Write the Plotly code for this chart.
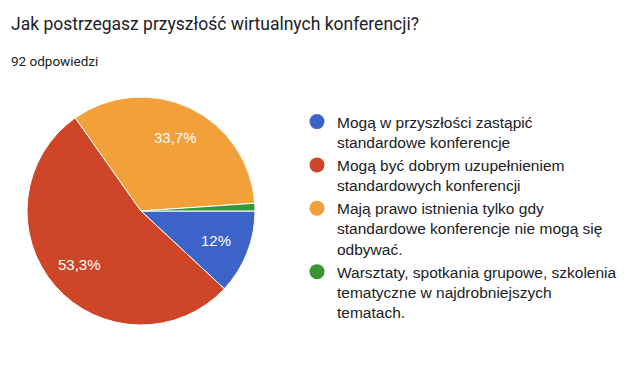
import math
import plotly.graph_objects as go

# Data
categories = [
    "Mogą w przyszłości zastąpić<br>standardowe konferencje",
    "Mogą być dobrym uzupełnieniem<br>standardowych konferencji",
    "Mają prawo istnienia tylko gdy<br>standardowe konferencje nie mogą się<br>odbywać.",
    "Warsztaty, spotkania grupowe, szkolenia<br>tematyczne w najdrobniejszych<br>tematach.",
]
counts = [11, 49, 31, 1]
colors = ["#3c64c8", "#cf4527", "#f2a03a", "#3a9632"]
title_text = "Jak postrzegasz przyszłość wirtualnych konferencji?"
subtitle_text = "92 odpowiedzi"

W, H = 630, 371
OFF = 8  # page body margin
total = sum(counts)


def px(x):
    return (x - OFF) / W


def py(y):
    return 1 - (y - OFF) / H


def fmt(v):
    p = 100.0 * v / total
    s = f"{p:.1f}".replace(".", ",")
    if s.endswith(",0"):
        s = s[:-2]
    return s + "%"


fig = go.Figure()

cx, cy, r = 141, 211, 114
start_deg = 90
fig.add_trace(go.Pie(
    labels=categories,
    values=counts,
    textinfo="none",
    marker=dict(colors=colors, line=dict(color="white", width=1)),
    sort=False,
    direction="clockwise",
    rotation=start_deg,
    showlegend=False,
    hoverinfo="label+percent",
    domain=dict(x=[px(cx - r), px(cx + r)], y=[py(cy + r), py(cy - r)]),
))

# slice percentage labels at mid-angle of each slice (computed from values)
annotations = []
cum = 0.0
for v in counts:
    frac = v / total
    mid = start_deg + 360.0 * (cum + frac / 2)
    cum += frac
    if frac < 0.05:
        continue
    a = math.radians(mid)
    lx = cx + 0.71 * r * math.sin(a)
    ly = cy - 0.71 * r * math.cos(a)
    annotations.append(dict(
        text=fmt(v), x=px(lx), y=py(ly), xref="paper", yref="paper",
        xanchor="center", yanchor="middle", showarrow=False,
        font=dict(family="Liberation Sans, Arial, sans-serif", size=15, color="white"),
    ))

for i, (lab, col) in enumerate(zip(categories, colors)):
    fig.add_trace(go.Scatter(
        x=[None], y=[None], mode="markers", name=lab,
        marker=dict(color=col, size=15, symbol="circle"),
        legendgroup=f"g{i}", showlegend=True, hoverinfo="skip",
    ))

annotations += [
    dict(text=title_text, x=px(OFF + 1), y=py(24), xref="paper", yref="paper",
         xanchor="left", yanchor="middle", showarrow=False,
         font=dict(family="Roboto, sans-serif", size=17.5, color="#202124")),
    dict(text=subtitle_text, x=px(OFF + 1), y=py(61), xref="paper", yref="paper",
         xanchor="left", yanchor="middle", showarrow=False,
         font=dict(family="Roboto, sans-serif", size=13.5, color="#202124")),
]

fig.update_layout(
    width=W, height=H,
    margin=dict(l=0, r=0, t=0, b=0),
    paper_bgcolor="white", plot_bgcolor="white",
    xaxis=dict(visible=False, domain=[0.99, 1]),
    yaxis=dict(visible=False, domain=[0.99, 1]),
    legend=dict(
        x=(289) / W, y=1 - 97 / H, xanchor="left", yanchor="top",
        font=dict(family="Liberation Sans, Arial, sans-serif", size=15.5, color="#202124"),
        valign="top", tracegroupgap=0, itemsizing="trace",
        bgcolor="rgba(0,0,0,0)",
    ),
    annotations=annotations,
)

fig.write_html("out.html")
